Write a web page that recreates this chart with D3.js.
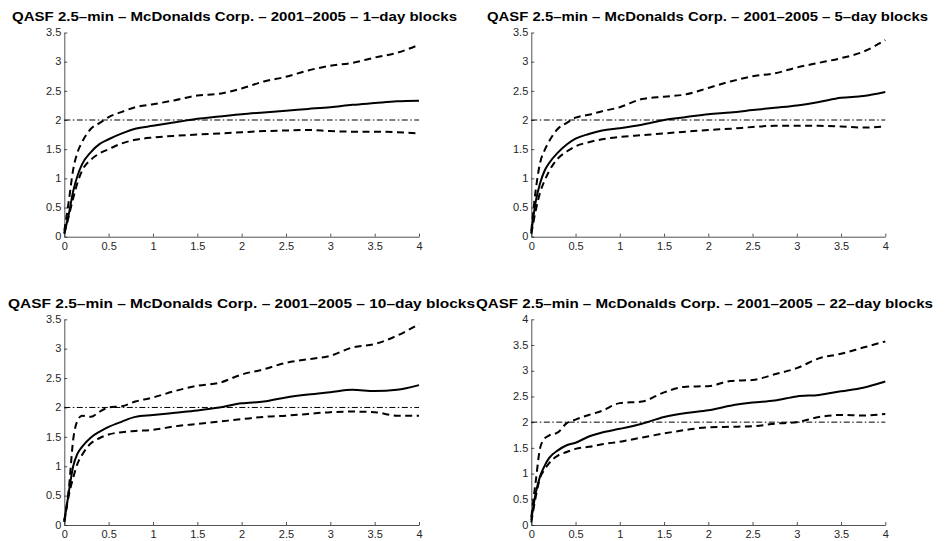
<!DOCTYPE html>
<html>
<head>
<meta charset="utf-8">
<script src="https://cdn.jsdelivr.net/npm/d3@7"></script>
<style>
  html, body { margin: 0; padding: 0; background: #fff; }
  svg { display: block; }
  text { font-family: "Liberation Sans", Arial, Helvetica, sans-serif; }
</style>
</head>
<body>
<svg id="chart" width="946" height="541"></svg>
<script>
// ---------- data ----------
const xGrid = [0, 0.05, 0.1, 0.15, 0.2, 0.3, 0.4, 0.5, 0.65, 0.8, 1, 1.25, 1.5, 1.75, 2, 2.25, 2.5, 2.75, 3, 3.25, 3.5, 3.75, 4];

const titles = [
  "QASF 2.5\u2013min \u2013 McDonalds Corp. \u2013 2001\u20132005 \u2013 1\u2013day blocks",
  "QASF 2.5\u2013min \u2013 McDonalds Corp. \u2013 2001\u20132005 \u2013 5\u2013day blocks",
  "QASF 2.5\u2013min \u2013 McDonalds Corp. \u2013 2001\u20132005 \u2013 10\u2013day blocks",
  "QASF 2.5\u2013min \u2013 McDonalds Corp. \u2013 2001\u20132005 \u2013 22\u2013day blocks"
];

const xTicks = [0, 0.5, 1, 1.5, 2, 2.5, 3, 3.5, 4];
const yTicks35 = [0, 0.5, 1, 1.5, 2, 2.5, 3, 3.5];
const yTicks40 = [0, 0.5, 1, 1.5, 2, 2.5, 3, 3.5, 4];
const yMax = [3.5, 3.5, 3.5, 4];
const refLevel = 2;

// panel 1: 1-day blocks
const p1Mid = [0.06, 0.38, 0.78, 1.05, 1.24, 1.45, 1.59, 1.67, 1.77, 1.85, 1.90, 1.96, 2.02, 2.06, 2.10, 2.13, 2.16, 2.19, 2.22, 2.26, 2.29, 2.32, 2.33];
const p1Up  = [0.10, 0.60, 1.15, 1.45, 1.62, 1.85, 1.95, 2.05, 2.14, 2.22, 2.27, 2.34, 2.42, 2.45, 2.54, 2.66, 2.74, 2.85, 2.93, 2.98, 3.07, 3.15, 3.29];
const p1Low = [0.05, 0.35, 0.66, 0.93, 1.13, 1.32, 1.43, 1.50, 1.60, 1.66, 1.70, 1.73, 1.75, 1.77, 1.79, 1.81, 1.82, 1.83, 1.81, 1.80, 1.80, 1.79, 1.77];

// panel 2: 5-day blocks
const p2Mid = [0.06, 0.60, 0.92, 1.13, 1.26, 1.44, 1.58, 1.68, 1.76, 1.82, 1.86, 1.92, 2.00, 2.05, 2.10, 2.13, 2.17, 2.21, 2.25, 2.31, 2.38, 2.41, 2.48];
const p2Up  = [0.10, 0.80, 1.27, 1.48, 1.63, 1.85, 1.95, 2.04, 2.09, 2.15, 2.22, 2.36, 2.40, 2.44, 2.55, 2.66, 2.75, 2.80, 2.90, 2.98, 3.06, 3.17, 3.37];
const p2Low = [0.05, 0.45, 0.76, 0.96, 1.12, 1.34, 1.46, 1.55, 1.62, 1.67, 1.71, 1.74, 1.77, 1.80, 1.83, 1.85, 1.88, 1.90, 1.90, 1.90, 1.89, 1.87, 1.89];

// panel 3: 10-day blocks
const p3Mid = [0.06, 0.55, 1.00, 1.22, 1.33, 1.49, 1.59, 1.67, 1.76, 1.84, 1.87, 1.91, 1.95, 2.00, 2.07, 2.10, 2.17, 2.22, 2.26, 2.30, 2.28, 2.30, 2.38];
const p3Up  = [0.08, 0.60, 1.45, 1.78, 1.86, 1.84, 1.93, 2.00, 2.02, 2.10, 2.17, 2.28, 2.37, 2.42, 2.56, 2.65, 2.76, 2.82, 2.88, 3.02, 3.08, 3.22, 3.42];
const p3Low = [0.05, 0.50, 0.80, 1.05, 1.19, 1.39, 1.48, 1.54, 1.58, 1.60, 1.62, 1.68, 1.72, 1.76, 1.80, 1.84, 1.86, 1.89, 1.92, 1.93, 1.92, 1.86, 1.86];

// panel 4: 22-day blocks
const p4Mid = [0.10, 0.62, 0.95, 1.15, 1.30, 1.45, 1.55, 1.60, 1.72, 1.80, 1.87, 1.97, 2.10, 2.18, 2.23, 2.32, 2.38, 2.42, 2.50, 2.53, 2.60, 2.67, 2.79];
const p4Up  = [0.15, 0.85, 1.50, 1.68, 1.74, 1.80, 1.98, 2.05, 2.14, 2.22, 2.37, 2.40, 2.58, 2.69, 2.70, 2.80, 2.82, 2.93, 3.05, 3.24, 3.33, 3.45, 3.57];
const p4Low = [0.05, 0.55, 0.92, 1.08, 1.20, 1.35, 1.42, 1.48, 1.52, 1.57, 1.62, 1.70, 1.78, 1.85, 1.90, 1.91, 1.92, 1.97, 2.00, 2.10, 2.14, 2.13, 2.16];

// ---------- layout ----------
const panels = [
  {x0: 64.3,  x1: 419,   y0: 236.7, y1: 32.5,  tx0: 12,  tx1: 457, ty: 21,  mid: p1Mid, up: p1Up, low: p1Low, ymax: yMax[0], yt: yTicks35, title: titles[0]},
  {x0: 531.3, x1: 885.3, y0: 236.7, y1: 32.5,  tx0: 487, tx1: 928, ty: 21,  mid: p2Mid, up: p2Up, low: p2Low, ymax: yMax[1], yt: yTicks35, title: titles[1]},
  {x0: 64.3,  x1: 419,   y0: 525,   y1: 319.3, tx0: 8,   tx1: 475, ty: 308, mid: p3Mid, up: p3Up, low: p3Low, ymax: yMax[2], yt: yTicks35, title: titles[2]},
  {x0: 531.3, x1: 885.3, y0: 525,   y1: 319.3, tx0: 476, tx1: 933, ty: 308, mid: p4Mid, up: p4Up, low: p4Low, ymax: yMax[3], yt: yTicks40, title: titles[3]}
];

const svg = d3.select("#chart");
const axisColor = "#262626";

panels.forEach(p => {
  const x = d3.scaleLinear().domain([0, 4]).range([p.x0, p.x1]);
  const y = d3.scaleLinear().domain([0, p.ymax]).range([p.y0, p.y1]);
  const g = svg.append("g");

  // axes
  const xa = g.append("g").attr("transform", `translate(0,${p.y0})`)
    .call(d3.axisBottom(x).tickValues(xTicks).tickFormat(d => String(d))
      .tickSizeInner(-3).tickSizeOuter(0).tickPadding(6));
  const ya = g.append("g").attr("transform", `translate(${p.x0},0)`)
    .call(d3.axisLeft(y).tickValues(p.yt).tickFormat(d => String(d))
      .tickSizeInner(-3).tickSizeOuter(0).tickPadding(3));
  [xa, ya].forEach(a => {
    a.select(".domain").attr("stroke", axisColor).attr("stroke-width", 0.8);
    a.selectAll(".tick line").attr("stroke", axisColor).attr("stroke-width", 0.8);
    a.selectAll(".tick text").attr("fill", axisColor)
      .style("font-size", "10px").style("font-family", "'Liberation Sans', Arial, sans-serif")
      .each(function() {
        const len = this.getComputedTextLength();
        d3.select(this).attr("textLength", len * 1.1).attr("lengthAdjust", "spacingAndGlyphs");
      });
  });

  // reference dash-dot line
  g.append("line")
    .attr("x1", x(0)).attr("x2", x(4)).attr("y1", y(refLevel)).attr("y2", y(refLevel))
    .attr("stroke", "#000").attr("stroke-width", 1)
    .attr("stroke-dasharray", "6,2.5,1.5,2.5");

  const line = d3.line().x((d, i) => x(xGrid[i])).y(d => y(d)).curve(d3.curveMonotoneX);

  g.append("path").datum(p.up).attr("d", line)
    .attr("fill", "none").attr("stroke", "#000").attr("stroke-width", 2)
    .attr("stroke-dasharray", "7,4.5");
  g.append("path").datum(p.low).attr("d", line)
    .attr("fill", "none").attr("stroke", "#000").attr("stroke-width", 2)
    .attr("stroke-dasharray", "7,4.5");
  g.append("path").datum(p.mid).attr("d", line)
    .attr("fill", "none").attr("stroke", "#000").attr("stroke-width", 2);

  // title
  const t = svg.append("text")
    .attr("x", p.tx0).attr("y", p.ty)
    .attr("text-anchor", "start")
    .style("font-size", "13.5px").style("font-weight", "bold")
    .attr("fill", "#000")
    .text(p.title);
  t.attr("textLength", p.tx1 - p.tx0).attr("lengthAdjust", "spacingAndGlyphs");
});
</script>
</body>
</html>
